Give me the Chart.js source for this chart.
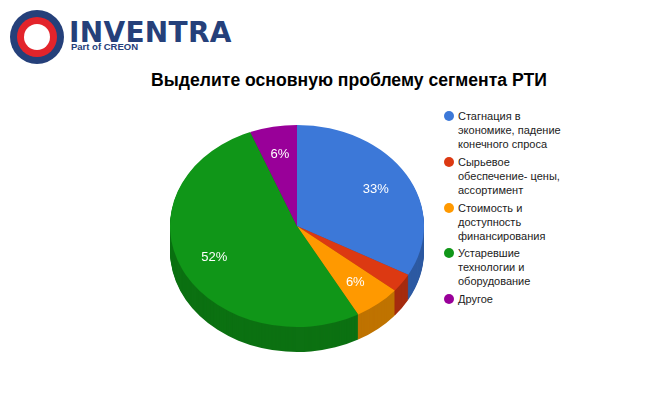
<!DOCTYPE html>
<html><head><meta charset="utf-8">
<script src="https://cdn.jsdelivr.net/npm/chart.js@4"></script>
<style>
body{margin:0;width:662px;height:409px;background:#fff;font-family:Arial,"Liberation Sans",sans-serif;position:relative;overflow:hidden}
#logo{position:absolute;left:10px;top:10px;width:54px;height:54px;border-radius:50%;background:#25407a}
#logo .ring{position:absolute;left:7px;top:7px;width:40px;height:40px;border-radius:50%;background:#e3242b}
#logo .core{position:absolute;left:14px;top:14px;width:26px;height:26px;border-radius:50%;background:#fff}
#brand{position:absolute;left:69px;top:16px;color:#25407a;font-weight:bold;font-size:28px;letter-spacing:0.3px;font-family:"DejaVu Sans",sans-serif}
#sub{position:absolute;left:71px;top:41px;color:#25407a;font-weight:bold;font-size:9.5px}
#title{position:absolute;left:0;width:698px;top:70px;text-align:center;font-weight:bold;font-size:17.6px;color:#000}
#wrap{position:absolute;left:170px;top:99px;width:254px;height:254px}
#legend{position:absolute;left:444px;top:109px;font-size:11px;color:#222;line-height:14px}
#legend div{position:relative;padding-left:14px;width:120px;height:42px;margin-bottom:3.8px}
#legend span{position:absolute;left:0;top:2px;width:10px;height:10px;border-radius:50%}
</style></head><body>
<div id="logo"><div class="ring"></div><div class="core"></div></div>
<div id="brand">INVENTRA</div><div id="sub">Part of CREON</div>
<div id="title">Выделите основную проблему сегмента РТИ</div>
<div id="wrap"><canvas id="c"></canvas></div>
<div id="legend"></div>
<script>
const labels = ["Стагнация в экономике, падение конечного спроса", "Сырьевое обеспечение- цены, ассортимент", "Стоимость и доступность финансирования", "Устаревшие технологии и оборудование", "Другое"];
const values = [33, 3, 6, 52, 6];
const colors = ["#3c78d8", "#dc3912", "#ff9900", "#109618", "#990099"];
const sides = ["#2d5aa2", "#a52b0e", "#bf7300", "#0c7112", "#730073"];

const legend = document.getElementById("legend");
labels.forEach((l, i) => {
  const d = document.createElement("div");
  d.innerHTML = '<span style="background:' + colors[i] + '"></span>' + l;
  legend.appendChild(d);
});

const S = 101 / 127, DEPTH = 25;
const tilt = {
  id: "tilt",
  beforeDatasetsDraw(chart) {
    const ctx = chart.ctx, arc = chart.getDatasetMeta(0).data[0];
    const cx = arc.x, cy = arc.y;
    ctx.save();
    ctx.translate(cx, cy); ctx.scale(1, S); ctx.translate(-cx, -cy);
    const meta = chart.getDatasetMeta(0);
    for (let d = DEPTH; d > 0; d--) {
      meta.data.forEach((a, i) => {
        ctx.save();
        ctx.translate(0, d / S);
        ctx.beginPath();
        ctx.moveTo(a.x, a.y);
        ctx.arc(a.x, a.y, a.outerRadius, a.startAngle, a.endAngle);
        ctx.closePath();
        ctx.fillStyle = sides[i];
        ctx.fill();
        ctx.restore();
      });
    }
  },
  afterDatasetsDraw(chart) {
    const ctx = chart.ctx;
    ctx.restore();
    const meta = chart.getDatasetMeta(0);
    ctx.save();
    ctx.fillStyle = "#fff";
    ctx.font = "13px Arial";
    ctx.textAlign = "center"; ctx.textBaseline = "middle";
    meta.data.forEach((a, i) => {
      if (values[i] < 5) return;
      const m = (a.startAngle + a.endAngle) / 2, r = a.outerRadius * 0.72;
      ctx.fillText(values[i] + "%", a.x + Math.cos(m) * r, a.y + Math.sin(m) * r * S);
    });
    ctx.restore();
  }
};

new Chart(document.getElementById("c"), {
  type: "pie",
  data: { labels: labels, datasets: [{ data: values, backgroundColor: colors, borderWidth: 0 }] },
  options: {
    animation: false, responsive: true, maintainAspectRatio: false,
    layout: { padding: 0 },
    plugins: { legend: { display: false }, tooltip: { enabled: false } }
  },
  plugins: [tilt]
});
</script>
</body></html>
